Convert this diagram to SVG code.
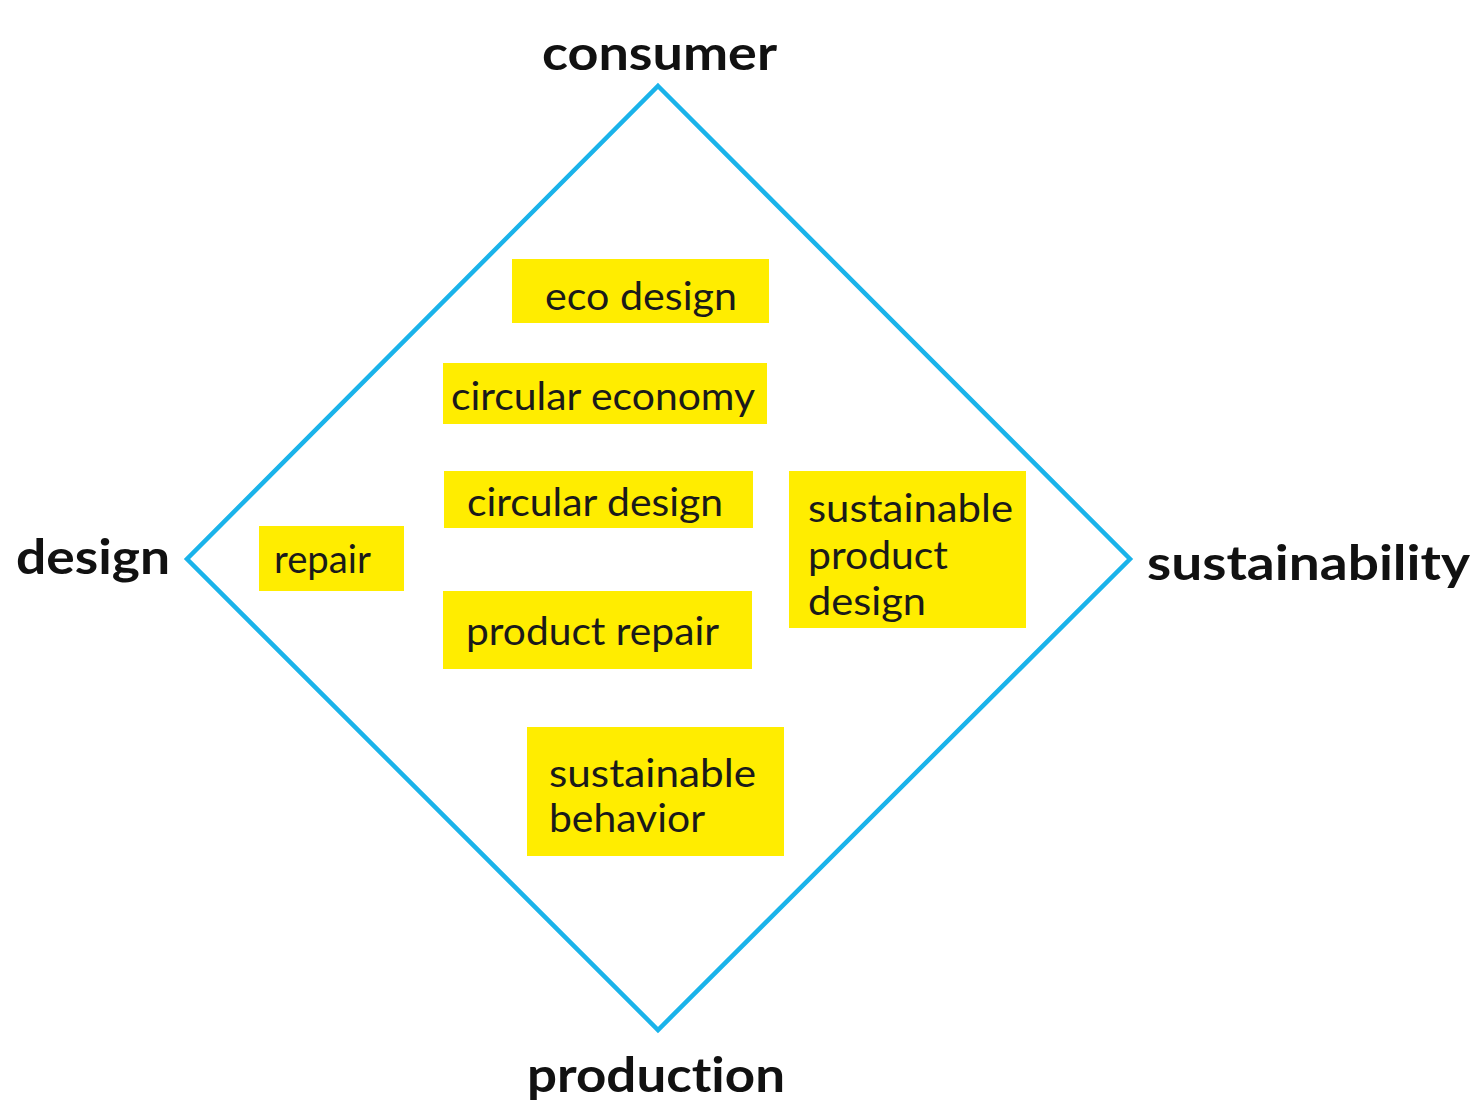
<svg xmlns="http://www.w3.org/2000/svg" width="1479" height="1110" viewBox="0 0 1479 1110">
<style>
.box{fill:#FFED00}
.t{font-family:Lato,"Open Sans",sans-serif;font-size:39px;fill:#1a1a1a;font-variant-ligatures:none}
.lbl{font-family:Lato,"Open Sans",sans-serif;font-weight:bold;font-size:48px;fill:#111;font-variant-ligatures:none}
</style>
<rect width="1479" height="1110" fill="#fff"/>
<g id="connectors">
<polygon points="658,86 1130,559 658,1030 187,559" fill="none" stroke="#1AB3EA" stroke-width="4.5"/>
</g>
<g id="consumer"><text class="lbl" x="542" y="70" textLength="235" lengthAdjust="spacingAndGlyphs">consumer</text></g>
<g id="design"><text class="lbl" x="16" y="574" textLength="154" lengthAdjust="spacingAndGlyphs">design</text></g>
<g id="sustainability"><text class="lbl" x="1147" y="580" textLength="323" lengthAdjust="spacingAndGlyphs">sustainability</text></g>
<g id="production"><text class="lbl" x="527" y="1092" textLength="258" lengthAdjust="spacingAndGlyphs">production</text></g>
<g id="eco-design"><rect class="box" x="512" y="259" width="257" height="64"/><text class="t" x="545" y="310" textLength="192" lengthAdjust="spacingAndGlyphs">eco design</text></g>
<g id="circular-economy"><rect class="box" x="443" y="363" width="324" height="61"/><text class="t" x="451" y="410" textLength="304" lengthAdjust="spacingAndGlyphs">circular economy</text></g>
<g id="circular-design"><rect class="box" x="444" y="471" width="309" height="57"/><text class="t" x="467" y="516" textLength="256" lengthAdjust="spacingAndGlyphs">circular design</text></g>
<g id="product-repair"><rect class="box" x="443" y="591" width="309" height="78"/><text class="t" x="466" y="645" textLength="253" lengthAdjust="spacingAndGlyphs">product repair</text></g>
<g id="repair"><rect class="box" x="259" y="526" width="145" height="65"/><text class="t" x="274" y="573" textLength="97" lengthAdjust="spacingAndGlyphs">repair</text></g>
<g id="sustainable-product-design"><rect class="box" x="789" y="471" width="237" height="157"/><text class="t" x="808" y="522" textLength="205" lengthAdjust="spacingAndGlyphs">sustainable</text><text class="t" x="808" y="569" textLength="140" lengthAdjust="spacingAndGlyphs">product</text><text class="t" x="808" y="615" textLength="118" lengthAdjust="spacingAndGlyphs">design</text></g>
<g id="sustainable-behavior"><rect class="box" x="527" y="727" width="257" height="129"/><text class="t" x="549" y="787" textLength="207" lengthAdjust="spacingAndGlyphs">sustainable</text><text class="t" x="549" y="832" textLength="156" lengthAdjust="spacingAndGlyphs">behavior</text></g>
</svg>
